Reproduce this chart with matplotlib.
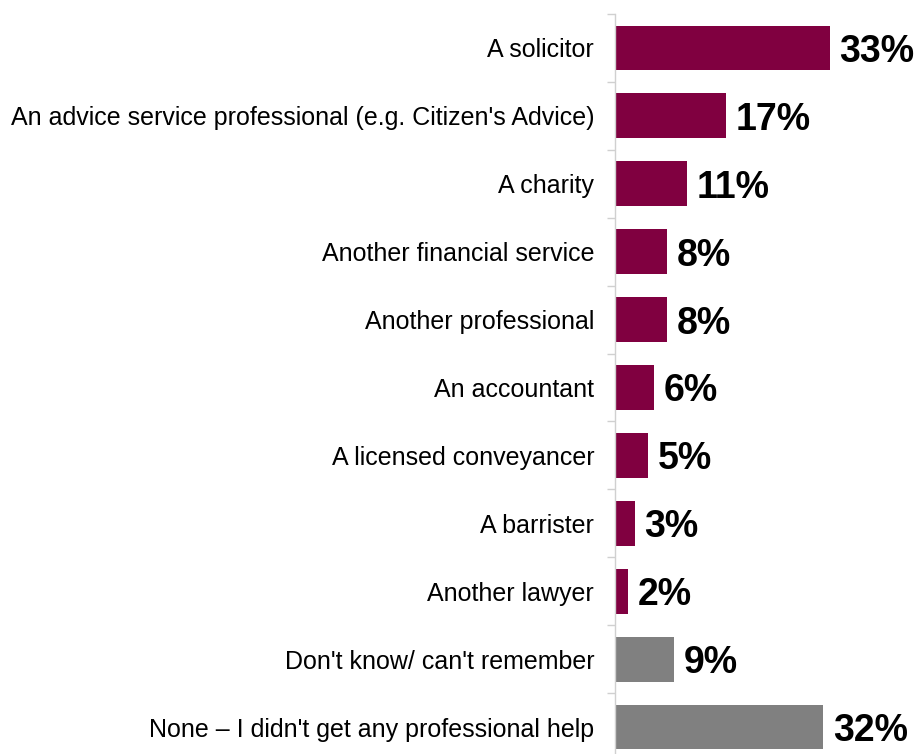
import matplotlib
matplotlib.use("Agg")
import matplotlib.pyplot as plt
from matplotlib.transforms import offset_copy

categories = [
    "A solicitor",
    "An advice service professional (e.g. Citizen's Advice)",
    "A charity",
    "Another financial service",
    "Another professional",
    "An accountant",
    "A licensed conveyancer",
    "A barrister",
    "Another lawyer",
    "Don't know/ can't remember",
    "None \u2013 I didn't get any professional help",
]
values = [33, 17, 11, 8, 8, 6, 5, 3, 2, 9, 32]
is_professional = [True] * 9 + [False] * 2

maroon = "#800040"
grey = "#808080"
colors = [maroon if p else grey for p in is_professional]

plt.rcParams["font.family"] = ["Liberation Sans", "DejaVu Sans"]

W, H = 917, 754
fig = plt.figure(figsize=(W / 100, H / 100), dpi=100)
ax_left, ax_top, ax_bottom = 615, 14, 761
ax = fig.add_axes([ax_left / W, (H - ax_bottom) / H, (W - ax_left) / W, (ax_bottom - ax_top) / H])

n = len(categories)
ypos = list(range(n))
ax.barh(ypos, values, height=0.66, color=colors, zorder=2)
ax.set_ylim(n - 0.5, -0.5)
ax.set_xlim(0, (W - ax_left) / 6.5)

ax.set_yticks(ypos)
ax.set_yticklabels(categories, fontsize=18)
ax.tick_params(axis="y", length=0, pad=15)
# minor ticks sit between categories
ax.set_yticks([i - 0.5 for i in range(n + 1)], minor=True)
ax.tick_params(axis="y", which="minor", length=6, color="#d0d0d0", width=1)
ax.set_xticks([])

for side in ["top", "right", "bottom"]:
    ax.spines[side].set_visible(False)
ax.spines["left"].set_color("#d0d0d0")
ax.spines["left"].set_linewidth(1)

label_tf = offset_copy(ax.transData, fig=fig, x=-3, y=-4, units="dots")
for y, v in zip(ypos, values):
    ax.text(v + 2, y, f"{v}%", va="center", ha="left", fontsize=27,
            fontweight="bold", color="black", transform=label_tf)

fig.savefig("out.png", dpi=100)
